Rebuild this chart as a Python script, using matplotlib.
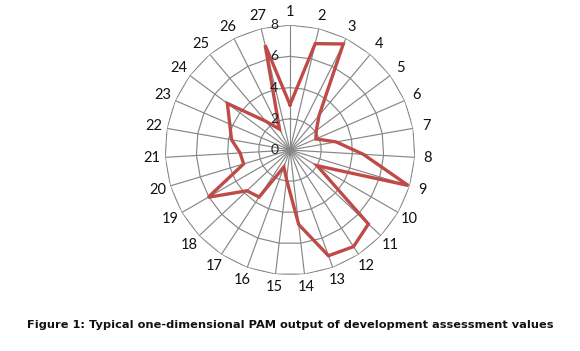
import numpy as np
import matplotlib
matplotlib.use("Agg")
from matplotlib import pyplot as plt

# spokes of the radar and the assessed value on each
categories = ['1', '2', '3', '4', '5', '6', '7', '8', '9', '10', '11', '12', '13', '14',
              '15', '16', '17', '18', '19', '20', '21', '22', '23', '24', '25', '26', '27']
values = [2.9, 7.0, 7.6, 2.9, 2.1, 1.8, 3.0, 4.7, 7.9, 2.0, 6.9, 7.4, 7.2, 4.8,
          1.9, 1.15, 3.6, 3.8, 6.05, 3.1, 3.2, 3.8, 4.2, 5.0, 2.4, 1.5, 6.9]
levels = [0, 2, 4, 6, 8]
caption = "Figure 1: Typical one-dimensional PAM output of development assessment values"

n = len(categories)
theta = np.linspace(0, 2 * np.pi, n, endpoint=False)
theta_closed = np.append(theta, theta[0])

fig = plt.figure(figsize=(5.8, 3.51), dpi=100)
ax = fig.add_axes([0.2845, 0.2165, 0.431, 0.712], projection='polar')
ax.set_theta_zero_location('N')
ax.set_theta_direction(-1)
ax.set_ylim(0, 8)
ax.grid(False)
ax.spines['polar'].set_visible(False)
ax.set_xticks([])
ax.set_yticks([])

grid_col = '#878787'
# polygon gridlines like excel
for lv in levels[1:]:
    ax.plot(theta_closed, [lv] * (n + 1), color=grid_col, lw=0.85, zorder=1)
for t in theta:
    ax.plot([t, t], [0, levels[-1]], color=grid_col, lw=0.85, zorder=1)

# the data
vals_closed = values + values[:1]
ax.plot(theta_closed, vals_closed, color='#BE4B48', lw=2.4, zorder=3, solid_joinstyle='miter')

# radial axis labels along first spoke
for lv in levels:
    ax.annotate(str(lv), xy=(0, lv), xytext=(-8.5, 0), textcoords='offset points',
                ha='right', va='center', fontsize=10, family='Lato', color='#222222', zorder=4)

# category labels
for t, c in zip(theta, categories):
    ax.text(t, 8.85, c, ha='center', va='center', fontsize=10.5, family='Lato', color='#111111')

fig.text(0.5, 0.074, caption, ha='center', va='center', fontsize=8.2,
         fontweight='bold', family='DejaVu Sans', color='#111111')

fig.savefig('out.png', dpi=100)
